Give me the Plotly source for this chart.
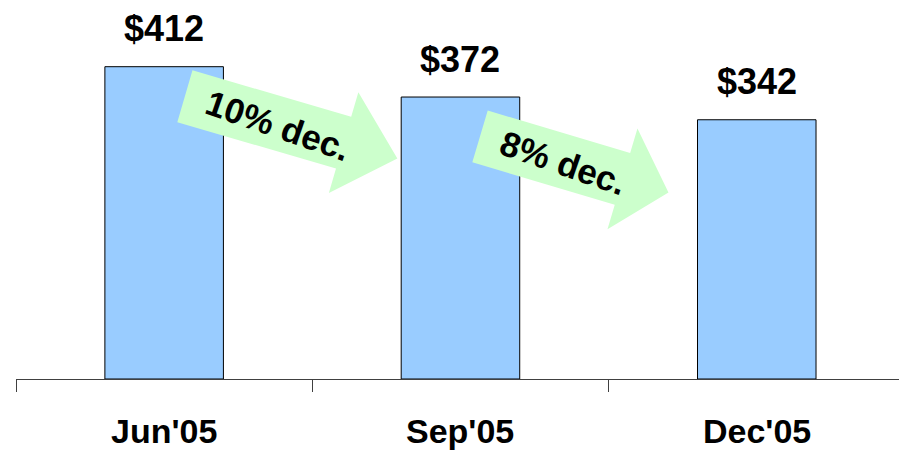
import math
import plotly.graph_objects as go

# Average value by quarter
periods = ["Jun'05", "Sep'05", "Dec'05"]
values = [412, 372, 342]
value_labels = ["$412", "$372", "$342"]
change_labels = ["10% dec.", "8% dec."]

# ---- layout constants (pixels) ----
W, H = 899, 451
M_L, M_R, M_T, M_B = 16, 0, 0, 72
X_RANGE = [-0.5, 2.48]
Y_RANGE = [0, 500]
FONT = "Arial, Liberation Sans, sans-serif"

plot_w = W - M_L - M_R
plot_h = H - M_T - M_B
ppx = plot_w / (X_RANGE[1] - X_RANGE[0])
ppy = plot_h / (Y_RANGE[1] - Y_RANGE[0])


def to_px(x, y):
    return M_L + (x - X_RANGE[0]) * ppx, M_T + plot_h - (y - Y_RANGE[0]) * ppy


def to_data(px, py):
    return X_RANGE[0] + (px - M_L) / ppx, Y_RANGE[0] + (M_T + plot_h - py) / ppy


# Block arrows between consecutive bars: tail / tip in data units, sizes in px
arrow_specs = [
    dict(tail=(0.07, 373), tip=(0.787, 291), shaft=54, head_w=105, head_len=56,
         text_at=(0.385, 334)),
    dict(tail=(1.066, 320), tip=(1.702, 246), shaft=54, head_w=105, head_len=48,
         text_at=(1.345, 285)),
]


def arrow_path(spec):
    tx, ty = to_px(*spec["tail"])
    hx, hy = to_px(*spec["tip"])
    L = math.hypot(hx - tx, hy - ty)
    ux, uy = (hx - tx) / L, (hy - ty) / L
    nx, ny = uy, -ux
    w = spec["shaft"] / 2
    hw = spec["head_w"] / 2
    b = L - spec["head_len"]
    pts = [
        (tx + nx * w, ty + ny * w),
        (tx + ux * b + nx * w, ty + uy * b + ny * w),
        (tx + ux * b + nx * hw, ty + uy * b + ny * hw),
        (hx, hy),
        (tx + ux * b - nx * hw, ty + uy * b - ny * hw),
        (tx + ux * b - nx * w, ty + uy * b - ny * w),
        (tx - nx * w, ty - ny * w),
    ]
    d = [to_data(px, py) for px, py in pts]
    return "M " + " L ".join(f"{x:.4f},{y:.3f}" for x, y in d) + " Z"


fig = go.Figure(
    go.Bar(
        x=list(range(len(periods))),
        y=values,
        width=0.4,
        marker=dict(color="#99CCFF", line=dict(color="#000000", width=1)),
        hoverinfo="skip",
    )
)

shapes = []
annotations = []
for spec, label in zip(arrow_specs, change_labels):
    shapes.append(dict(type="path", path=arrow_path(spec), xref="x", yref="y",
                       fillcolor="#CCFFCC", line=dict(width=0), layer="above"))
    annotations.append(dict(x=spec["text_at"][0], y=spec["text_at"][1], xref="x", yref="y",
                            text=f"<b>{label}</b>", showarrow=False, textangle=19,
                            font=dict(family=FONT, size=35, color="#000000")))

for i, (v, lab) in enumerate(zip(values, value_labels)):
    annotations.append(dict(x=i, y=v, xref="x", yref="y", text=f"<b>{lab}</b>",
                            showarrow=False, yanchor="middle", yshift=38,
                            font=dict(family=FONT, size=36, color="#000000")))

fig.update_layout(
    width=W, height=H,
    margin=dict(l=M_L, r=M_R, t=M_T, b=M_B, pad=0),
    plot_bgcolor="white", paper_bgcolor="white",
    showlegend=False,
    shapes=shapes,
    annotations=annotations,
    xaxis=dict(
        range=X_RANGE,
        tickmode="array",
        tickvals=[-0.5, 0.5, 1.5],
        ticktext=["", "", ""],
        ticks="outside", ticklen=12, tickwidth=1, tickcolor="#404040",
        showline=True, linecolor="#404040", linewidth=1,
        showgrid=False, zeroline=False,
    ),
    yaxis=dict(range=Y_RANGE, visible=False, showgrid=False, zeroline=False),
)

# Category labels under each bar
for i, p in enumerate(periods):
    fig.add_annotation(x=i, y=0, xref="x", yref="y", text=f"<b>{p}</b>", showarrow=False,
                       yanchor="bottom", yshift=-72, borderpad=0,
                       font=dict(family=FONT, size=34, color="#000000"))

fig.write_html("out.html")
